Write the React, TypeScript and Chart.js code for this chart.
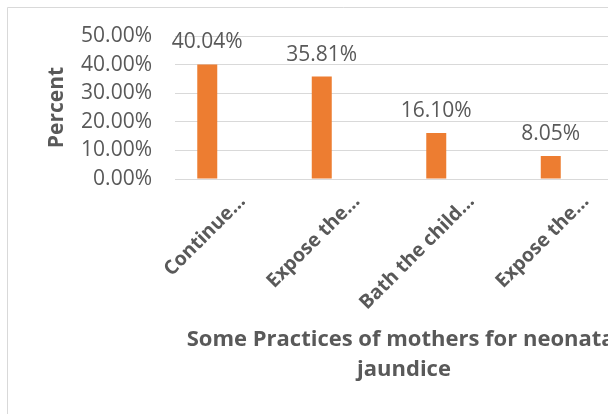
import React, { useEffect, useRef } from "react";
import { Chart, registerables } from "chart.js";

Chart.register(...registerables);

const categories = ["Continue…", "Expose the…", "Bath the child…", "Expose the…"];
const percentValues = [40.04, 35.81, 16.1, 8.05];
const hiddenSeries = [null, null, null, null];
const yTicks = [0, 10, 20, 30, 40, 50];
const yAxisTitle = "Percent";
const xTitleLines = ["Some Practices of mothers for neonatal", "jaundice"];

const TEXT = "#595959";
const GRID = "#d9d9d9";
const BAR = "#ED7D31";
const FONT = "'Open Sans', sans-serif";

export default function App() {
  const ref = useRef<HTMLCanvasElement | null>(null);

  useEffect(() => {
    const canvas = ref.current!;
    const overlay = {
      id: "overlay",
      beforeDraw(chart: any) {
        const ctx = chart.ctx;
        ctx.save();
        ctx.fillStyle = "#ffffff";
        ctx.fillRect(0, 0, chart.width, chart.height);
        ctx.strokeStyle = GRID;
        ctx.lineWidth = 1;
        ctx.beginPath();
        ctx.moveTo(7.5, chart.height);
        ctx.lineTo(7.5, 7.5);
        ctx.lineTo(chart.width, 7.5);
        ctx.stroke();
        ctx.restore();
      },
      afterDraw(chart: any) {
        const ctx = chart.ctx;
        const area = chart.chartArea;
        ctx.save();
        ctx.fillStyle = TEXT;
        // data labels
        ctx.font = `21px ${FONT}`;
        ctx.textAlign = "center";
        ctx.textBaseline = "alphabetic";
        const meta = chart.getDatasetMeta(0);
        meta.data.forEach((el: any, i: number) => {
          ctx.fillText(percentValues[i].toFixed(2) + "%", el.x, el.y - 16);
        });
        // y title
        ctx.font = `bold 21px ${FONT}`;
        ctx.save();
        ctx.translate(63, (area.top + area.bottom) / 2);
        ctx.rotate(-Math.PI / 2);
        ctx.textAlign = "center";
        ctx.textBaseline = "alphabetic";
        ctx.fillText(yAxisTitle, 0, 0);
        ctx.restore();
        // x title (centred on the plot area)
        const cx = (area.left + area.right) / 2;
        ctx.font = `bold 22px ${FONT}`;
        ctx.textAlign = "center";
        ctx.fillText(xTitleLines[0], cx, area.bottom + 167);
        ctx.fillText(xTitleLines[1], cx, area.bottom + 197);
        ctx.restore();
      },
    };

    const chart = new Chart(canvas, {
      type: "bar",
      data: {
        labels: categories,
        datasets: [
          {
            label: "Percent",
            data: percentValues,
            backgroundColor: BAR,
            categoryPercentage: 0.873,
            barPercentage: 0.4,
          },
          {
            label: "Series2",
            data: hiddenSeries as any,
            backgroundColor: BAR,
            categoryPercentage: 0.873,
            barPercentage: 0.4,
          },
        ],
      },
      options: {
        animation: false,
        responsive: false,
        maintainAspectRatio: false,
        devicePixelRatio: 1,
        layout: { padding: { left: 0, right: 47, top: 36, bottom: 0 } },
        plugins: {
          legend: { display: false },
          tooltip: { enabled: false },
        },
        scales: {
          x: {
            grid: { display: false, drawTicks: false },
            border: { display: true, color: GRID, width: 1 },
            ticks: {
              color: TEXT,
              font: { family: FONT, size: 19.5, weight: "bold" },
              minRotation: 45,
              maxRotation: 45,
              padding: 11,
              labelOffset: 10,
              autoSkip: false,
            },
            afterFit(scale: any) {
              scale.height = 414 - 179;
            },
          },
          y: {
            min: 0,
            max: 50,
            afterBuildTicks(scale: any) {
              scale.ticks = yTicks.map((v) => ({ value: v }));
            },
            grid: { color: GRID, lineWidth: 1, drawTicks: false },
            border: { display: false },
            ticks: {
              color: TEXT,
              font: { family: FONT, size: 21 },
              padding: 23,
              callback: (v: any) => Number(v).toFixed(2) + "%",
            },
            afterFit(scale: any) {
              scale.width = 175;
            },
          },
        },
      },
      plugins: [overlay],
    });
    return () => chart.destroy();
  }, []);

  return (
    <div style={{ position: "fixed", left: 0, top: 0, width: 608, height: 414, overflow: "hidden", background: "#fff" }}>
      <canvas ref={ref} width={680} height={414} style={{ display: "block", width: 680, height: 414 }} />
    </div>
  );
}
